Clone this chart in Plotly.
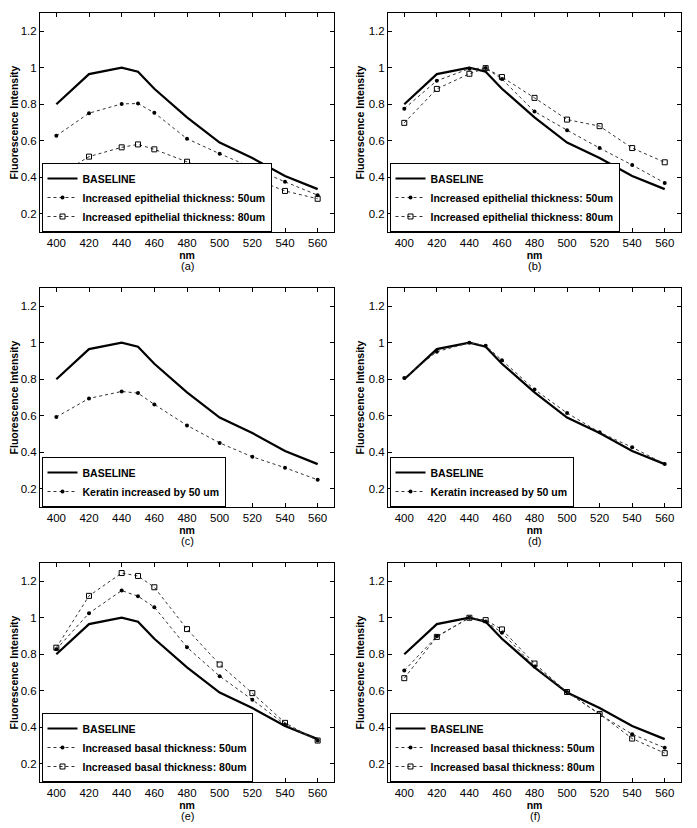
import plotly.graph_objects as go

wavelength = [400, 420, 440, 450, 460, 480, 500, 520, 540, 560]
baseline = [0.80, 0.965, 1.0, 0.978, 0.885, 0.728, 0.59, 0.505, 0.407, 0.335]

epi_50 = [0.627, 0.751, 0.802, 0.804, 0.753, 0.611, 0.529, 0.451, 0.375, 0.302]
epi_80 = [0.405, 0.513, 0.564, 0.580, 0.553, 0.485, 0.416, 0.395, 0.325, 0.282]

epi2_50 = [0.776, 0.929, 0.995, 0.998, 0.938, 0.760, 0.658, 0.560, 0.467, 0.369]
epi2_80 = [0.698, 0.884, 0.967, 0.998, 0.949, 0.835, 0.716, 0.680, 0.560, 0.482]

ker_c = [0.593, 0.695, 0.733, 0.724, 0.662, 0.547, 0.451, 0.375, 0.315, 0.249]
ker_d = [0.807, 0.951, 1.0, 0.984, 0.904, 0.744, 0.615, 0.509, 0.427, 0.336]

bas_50 = [0.827, 1.025, 1.149, 1.118, 1.058, 0.838, 0.680, 0.551, 0.415, 0.327]
bas_80 = [0.836, 1.120, 1.245, 1.229, 1.167, 0.938, 0.744, 0.587, 0.424, 0.327]

bas2_50 = [0.711, 0.898, 1.0, 0.980, 0.918, 0.733, 0.593, 0.471, 0.362, 0.287]
bas2_80 = [0.669, 0.895, 1.0, 0.987, 0.936, 0.749, 0.593, 0.473, 0.338, 0.258]

x_ticks = [400, 420, 440, 460, 480, 500, 520, 540, 560]
x_tick_labels = ["400", "420", "440", "460", "480", "500", "520", "540", "560"]
y_ticks = [0.2, 0.4, 0.6, 0.8, 1.0, 1.2]
y_tick_labels = ["0.2", "0.4", "0.6", "0.8", "1", "1.2"]
panel_labels = ["(a)", "(b)", "(c)", "(d)", "(e)", "(f)"]

panels = [
    [("Increased epithelial thickness: 50um", epi_50, "50"),
     ("Increased epithelial thickness: 80um", epi_80, "80")],
    [("Increased epithelial thickness: 50um", epi2_50, "50"),
     ("Increased epithelial thickness: 80um", epi2_80, "80")],
    [("Keratin increased by 50 um", ker_c, "50")],
    [("Keratin increased by 50 um", ker_d, "50")],
    [("Increased basal thickness: 50um", bas_50, "50"),
     ("Increased basal thickness: 80um", bas_80, "80")],
    [("Increased basal thickness: 50um", bas2_50, "50"),
     ("Increased basal thickness: 80um", bas2_80, "80")],
]

# page body has an 8px default margin, so design in window pixels minus that offset
OFF = 8
W, H = 697 - OFF, 828 - OFF
col_px = [(40 - OFF, 334 - OFF), (388 - OFF, 681 - OFF)]
row_px = [(13 - OFF, 232 - OFF), (288 - OFF, 507 - OFF), (563 - OFF, 782 - OFF)]

FONT = "Liberation Sans, Arial, sans-serif"
fig = go.Figure()
layout = dict(
    width=W, height=H, margin=dict(l=0, r=0, t=0, b=0, autoexpand=False),
    paper_bgcolor="white", plot_bgcolor="white",
    font=dict(family=FONT, color="black", size=11),
)
annotations = []

for i, series in enumerate(panels):
    r, c = divmod(i, 2)
    n = i + 1
    sfx = "" if n == 1 else str(n)
    xa, ya = "x" + sfx, "y" + sfx
    lg = "legend" + sfx
    x0, x1 = col_px[c]
    y0, y1 = row_px[r]
    xdom = [x0 / W, x1 / W]
    ydom = [1 - y1 / H, 1 - y0 / H]
    axis_common = dict(showline=True, linecolor="black", linewidth=1, mirror="allticks",
                       ticks="inside", ticklen=4, tickwidth=1, tickcolor="black",
                       showgrid=False, zeroline=False, automargin=False,
                       tickfont=dict(family=FONT, size=11.5, color="black"))
    layout["xaxis" + sfx] = dict(axis_common, domain=xdom, range=[390, 570], anchor=ya,
                                 tickvals=x_ticks, ticktext=x_tick_labels,
                                 title=dict(text="nm", font=dict(size=10.5, weight="bold"), standoff=0))
    layout["yaxis" + sfx] = dict(axis_common, domain=ydom, range=[0.1, 1.3], anchor=xa,
                                 tickvals=y_ticks, ticktext=y_tick_labels,
                                 title=dict(text="Fluorescence Intensity",
                                            font=dict(size=10.5, weight="bold"), standoff=2))
    layout[lg] = dict(x=(x0 + 1.5) / W, y=1 - y1 / H, xanchor="left", yanchor="bottom",
                      bgcolor="white", bordercolor="black", borderwidth=1,
                      font=dict(family=FONT, size=10.5, color="black", weight="bold"),
                      tracegroupgap=0, itemwidth=30)
    fig.add_trace(go.Scatter(x=wavelength, y=baseline, mode="lines", name="BASELINE",
                             line=dict(color="black", width=2.2), xaxis=xa, yaxis=ya, legend=lg))
    for name, vals, kind in series:
        if kind == "50":
            marker = dict(symbol="circle", size=4, color="black")
        else:
            marker = dict(symbol="square-open", size=5, color="black", line=dict(width=1, color="black"))
        fig.add_trace(go.Scatter(x=wavelength, y=vals, mode="lines+markers", name=name,
                                 line=dict(color="#333333", width=1, dash="dot"),
                                 marker=marker, xaxis=xa, yaxis=ya, legend=lg))
    annotations.append(dict(text=panel_labels[i], x=(x0 + x1) / 2 / W, y=1 - (y1 + 34) / H,
                            xref="paper", yref="paper", xanchor="center", yanchor="middle",
                            showarrow=False, font=dict(family=FONT, size=11, color="black")))

layout["annotations"] = annotations
fig.update_layout(**layout)
fig.write_html("out.html")
